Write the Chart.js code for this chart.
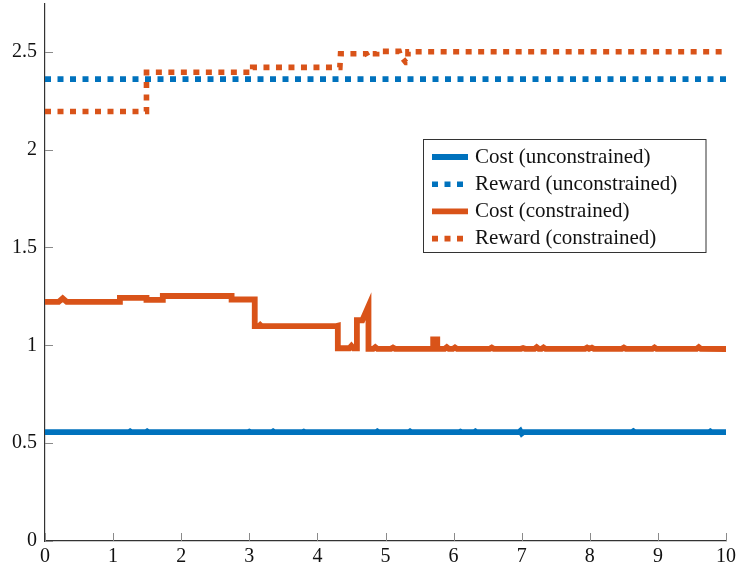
<!DOCTYPE html>
<html>
<head>
<meta charset="utf-8">
<script src="https://cdn.jsdelivr.net/npm/chart.js@4.4.1/dist/chart.umd.min.js"></script>
<style>
  html, body { margin: 0; padding: 0; background: #fff; }
  #wrap { width: 738px; height: 569px; }
</style>
</head>
<body>
<div id="wrap"><canvas id="chart" width="738" height="569"></canvas></div>
<script>
// --- data ---
const seriesLabels = ['Cost (unconstrained)', 'Reward (unconstrained)', 'Cost (constrained)', 'Reward (constrained)'];
const xTicks = [0, 1, 2, 3, 4, 5, 6, 7, 8, 9, 10];
const yTicks = [0, 0.5, 1, 1.5, 2, 2.5];

// Cost (unconstrained): flat around 0.556 with tiny spikes
const costU_x = [0, 1.23, 1.25, 1.27, 1.48, 1.50, 1.52, 2.98, 3.00, 3.02, 3.33, 3.35, 3.37, 3.78, 3.80, 3.82,
  4.86, 4.88, 4.90, 5.34, 5.36, 5.38, 6.08, 6.10, 6.12, 6.30, 6.32, 6.34, 6.96, 6.98, 7.00, 7.02,
  8.62, 8.64, 8.66, 9.75, 9.77, 9.79, 10];
const costU_y = [0.556, 0.556, 0.560, 0.556, 0.556, 0.560, 0.556, 0.556, 0.559, 0.556, 0.556, 0.560, 0.556, 0.556, 0.559, 0.556,
  0.556, 0.560, 0.556, 0.556, 0.560, 0.556, 0.556, 0.559, 0.556, 0.556, 0.560, 0.556, 0.556, 0.562, 0.550, 0.556,
  0.556, 0.561, 0.556, 0.556, 0.560, 0.556, 0.556];

// Reward (unconstrained): constant
const rewardU_x = [0, 10];
const rewardU_y = [2.36, 2.36];

// Cost (constrained): steps then settles near 0.98
const costC_x = [0, 0.20, 0.26, 0.32, 1.10, 1.10, 1.49, 1.49, 1.73, 1.73, 2.74, 2.74, 3.08, 3.08, 3.14, 3.16, 3.18,
  4.28, 4.30, 4.30, 4.47, 4.50, 4.53, 4.58, 4.58, 4.66, 4.75, 4.75, 4.82, 4.85, 4.88, 5.08, 5.11, 5.14,
  5.70, 5.70, 5.76, 5.76, 5.87, 5.90, 5.93, 5.99, 6.02, 6.05, 6.53, 6.56, 6.59, 6.99, 7.02, 7.05,
  7.19, 7.22, 7.25, 7.29, 7.32, 7.35, 7.93, 7.96, 7.99, 8.00, 8.03, 8.06, 8.47, 8.50, 8.53,
  8.92, 8.95, 8.98, 9.57, 9.60, 9.63, 10];
const costC_y = [1.222, 1.222, 1.240, 1.222, 1.222, 1.242, 1.242, 1.232, 1.232, 1.252, 1.252, 1.234, 1.234, 1.098, 1.098, 1.104, 1.098,
  1.098, 1.100, 0.985, 0.985, 0.997, 0.985, 0.985, 1.128, 1.128, 1.200, 0.982, 0.982, 0.990, 0.982, 0.982, 0.988, 0.982,
  0.982, 1.030, 1.030, 0.982, 0.982, 0.990, 0.982, 0.982, 0.989, 0.982, 0.982, 0.988, 0.982, 0.982, 0.986, 0.982,
  0.982, 0.990, 0.982, 0.982, 0.989, 0.982, 0.982, 0.988, 0.982, 0.982, 0.988, 0.982, 0.982, 0.988, 0.982,
  0.982, 0.989, 0.982, 0.982, 0.990, 0.982, 0.981];

// Reward (constrained): step function climbing to 2.5
const rewardC_x = [0, 1.49, 1.49, 3.05, 3.05, 4.33, 4.34, 4.72, 4.74, 4.76, 4.87, 4.87, 5.20, 5.22, 5.30, 5.33, 5.33, 10];
const rewardC_y = [2.195, 2.195, 2.395, 2.395, 2.42, 2.42, 2.49, 2.49, 2.478, 2.49, 2.49, 2.502, 2.502, 2.48, 2.445, 2.445, 2.50, 2.50];

const BLUE = '#0072BD';
const ORANGE = '#D95319';
const FONT = '"Liberation Serif", "DejaVu Serif", serif';

function pts(xs, ys) {
  return xs.map((x, i) => ({ x: x, y: ys[i] }));
}

const datasets = [
  { label: seriesLabels[0], data: pts(costU_x, costU_y), borderColor: BLUE, borderWidth: 5.8, order: 4 },
  { label: seriesLabels[1], data: pts(rewardU_x, rewardU_y), borderColor: BLUE, borderWidth: 5.6, borderDash: [6, 6.5], order: 3 },
  { label: seriesLabels[2], data: pts(costC_x, costC_y), borderColor: ORANGE, borderWidth: 5.8, order: 2 },
  { label: seriesLabels[3], data: pts(rewardC_x, rewardC_y), borderColor: ORANGE, borderWidth: 5.6, borderDash: [6, 6.5], order: 1 }
];
datasets.forEach(d => { d.pointRadius = 0; d.tension = 0; d.fill = false; d.borderCapStyle = 'butt'; d.borderJoinStyle = 'miter'; });

// inward tick marks, drawn after everything
const innerTicks = {
  id: 'innerTicks',
  afterDraw(chart) {
    const { ctx, chartArea, scales } = chart;
    ctx.save();
    ctx.strokeStyle = '#8a8a8a';
    ctx.lineWidth = 1;
    ctx.beginPath();
    xTicks.forEach(v => {
      const px = Math.round(scales.x.getPixelForValue(v)) + 0.5;
      ctx.moveTo(px, chartArea.bottom);
      ctx.lineTo(px, chartArea.bottom - 8);
    });
    yTicks.forEach(v => {
      const py = Math.round(scales.y.getPixelForValue(v)) + 0.5;
      ctx.moveTo(chartArea.left, py);
      ctx.lineTo(chartArea.left + 8, py);
    });
    ctx.stroke();
    ctx.restore();
  }
};

// legend box inside the plot
const boxLegend = {
  id: 'boxLegend',
  afterDraw(chart) {
    const ctx = chart.ctx;
    const bx = 423.5, by = 139.5, bw = 282.5, bh = 113;
    ctx.save();
    ctx.fillStyle = '#fff';
    ctx.fillRect(bx, by, bw, bh);
    ctx.strokeStyle = '#333';
    ctx.lineWidth = 1;
    ctx.strokeRect(bx, by, bw, bh);
    ctx.font = '21px ' + FONT;
    ctx.textBaseline = 'middle';
    ctx.fillStyle = '#111';
    chart.data.datasets.forEach((d, i) => {
      const y = 157 + i * 27.2;
      ctx.beginPath();
      ctx.strokeStyle = d.borderColor;
      ctx.lineWidth = d.borderWidth;
      ctx.lineCap = 'butt';
      ctx.setLineDash(d.borderDash || []);
      ctx.moveTo(432, y);
      ctx.lineTo(468, y);
      ctx.stroke();
      ctx.setLineDash([]);
      ctx.fillText(d.label, 475, y);
    });
    ctx.restore();
  }
};

new Chart(document.getElementById('chart'), {
  type: 'line',
  data: { datasets: datasets },
  options: {
    responsive: false,
    animation: false,
    events: [],
    layout: { padding: { top: 4, right: 12, left: 0, bottom: 0 } },
    plugins: { legend: { display: false }, tooltip: { enabled: false } },
    scales: {
      x: {
        type: 'linear', min: 0, max: 10,
        afterFit: s => { s.height = 28; s.paddingLeft = 0; s.paddingRight = 0; },
        afterBuildTicks: s => { s.ticks = xTicks.map(v => ({ value: v })); },
        grid: { display: false, drawTicks: false },
        border: { display: true, color: '#333', width: 1.2 },
        ticks: { color: '#111', font: { family: FONT, size: 20 }, padding: 4, maxRotation: 0,
          callback: v => String(v) }
      },
      y: {
        type: 'linear', min: 0, max: 2.744,
        afterFit: s => { s.width = 45; s.paddingTop = 0; s.paddingBottom = 0; },
        afterBuildTicks: s => { s.ticks = yTicks.map(v => ({ value: v })); },
        grid: { display: false, drawTicks: false },
        border: { display: true, color: '#333', width: 1.2 },
        ticks: { color: '#111', font: { family: FONT, size: 20 }, padding: 8,
          callback: v => String(+v.toFixed(2)) }
      }
    }
  },
  plugins: [innerTicks, boxLegend]
});
</script>
</body>
</html>
